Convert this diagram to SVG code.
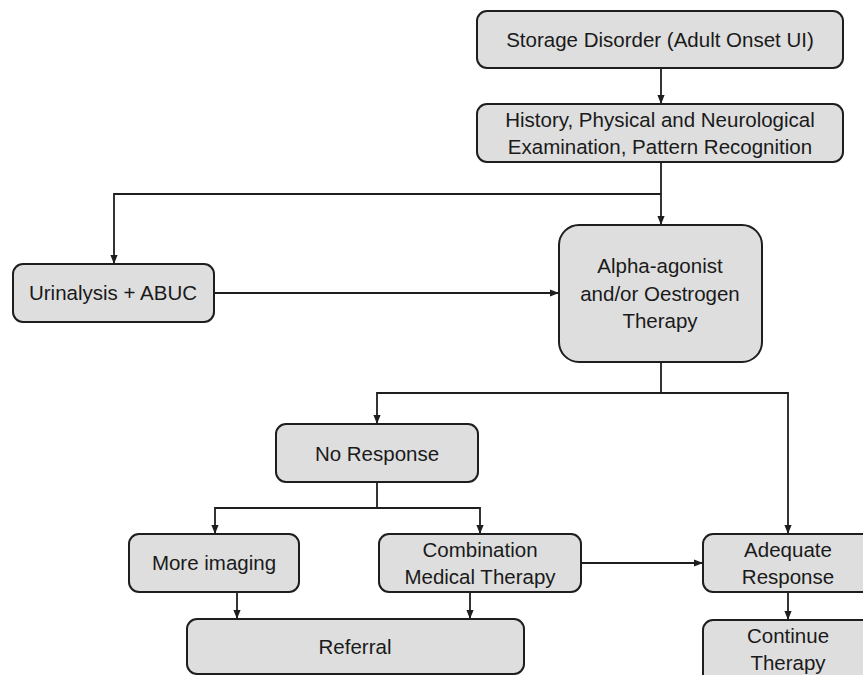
<svg xmlns="http://www.w3.org/2000/svg" width="863" height="675" viewBox="0 0 863 675">
<style>
.box{fill:#dedede;stroke:#1e1e1e;stroke-width:2}
.t{font-family:"Liberation Sans",Arial,sans-serif;font-size:20.5px;fill:#1a1a1a;text-anchor:middle}
.c{fill:none;stroke:#1e1e1e;stroke-width:1.8}
</style>
<defs>
<marker id="ah" viewBox="0 0 10 10" refX="10" refY="5" markerWidth="9" markerHeight="9" markerUnits="userSpaceOnUse" orient="auto">
<path d="M0,1 L10,5 L0,9 Z" fill="#1e1e1e"/>
</marker>
</defs>
<rect width="863" height="675" fill="#ffffff"/>
<g id="connectors">
<path class="c" d="M661,68 V104" marker-end="url(#ah)"/>
<path class="c" d="M661,162 V225" marker-end="url(#ah)"/>
<path class="c" d="M661,194 H114 V264" marker-end="url(#ah)"/>
<path class="c" d="M214,293 H559" marker-end="url(#ah)"/>
<path class="c" d="M661,362 V393 H377 V424" marker-end="url(#ah)"/>
<path class="c" d="M661,393 H788 V534" marker-end="url(#ah)"/>
<path class="c" d="M377,482 V508 H215 V534" marker-end="url(#ah)"/>
<path class="c" d="M377,508 H480 V534" marker-end="url(#ah)"/>
<path class="c" d="M581,563 H703" marker-end="url(#ah)"/>
<path class="c" d="M237,592 V619" marker-end="url(#ah)"/>
<path class="c" d="M470,592 V619" marker-end="url(#ah)"/>
<path class="c" d="M788,592 V620" marker-end="url(#ah)"/>
</g>
<g id="storage">
<rect class="box" x="477" y="11" width="366" height="57" rx="10"/>
<text class="t" x="660" y="47">Storage Disorder (Adult Onset UI)</text>
</g>
<g id="history">
<rect class="box" x="477" y="104" width="366" height="58" rx="10"/>
<text class="t" x="660" y="127">History, Physical and Neurological</text>
<text class="t" x="660" y="154">Examination, Pattern Recognition</text>
</g>
<g id="urinalysis">
<rect class="box" x="13" y="264" width="201" height="58" rx="10"/>
<text class="t" x="113" y="300">Urinalysis + ABUC</text>
</g>
<g id="alpha">
<rect class="box" x="559" y="225" width="203" height="137" rx="20"/>
<text class="t" x="660" y="273">Alpha-agonist</text>
<text class="t" x="660" y="301">and/or Oestrogen</text>
<text class="t" x="660" y="328">Therapy</text>
</g>
<g id="noresponse">
<rect class="box" x="276" y="424" width="202" height="58" rx="10"/>
<text class="t" x="377" y="461">No Response</text>
</g>
<g id="moreimaging">
<rect class="box" x="129" y="534" width="170" height="58" rx="10"/>
<text class="t" x="214" y="570">More imaging</text>
</g>
<g id="combination">
<rect class="box" x="379" y="534" width="202" height="58" rx="10"/>
<text class="t" x="480" y="557">Combination</text>
<text class="t" x="480" y="584">Medical Therapy</text>
</g>
<g id="adequate">
<rect class="box" x="703" y="534" width="170" height="58" rx="10"/>
<text class="t" x="788" y="557">Adequate</text>
<text class="t" x="788" y="584">Response</text>
</g>
<g id="referral">
<rect class="box" x="187" y="619" width="337" height="55" rx="10"/>
<text class="t" x="355" y="654">Referral</text>
</g>
<g id="continue">
<rect class="box" x="703" y="620" width="170" height="70" rx="10"/>
<text class="t" x="788" y="643">Continue</text>
<text class="t" x="788" y="670">Therapy</text>
</g>
</svg>
